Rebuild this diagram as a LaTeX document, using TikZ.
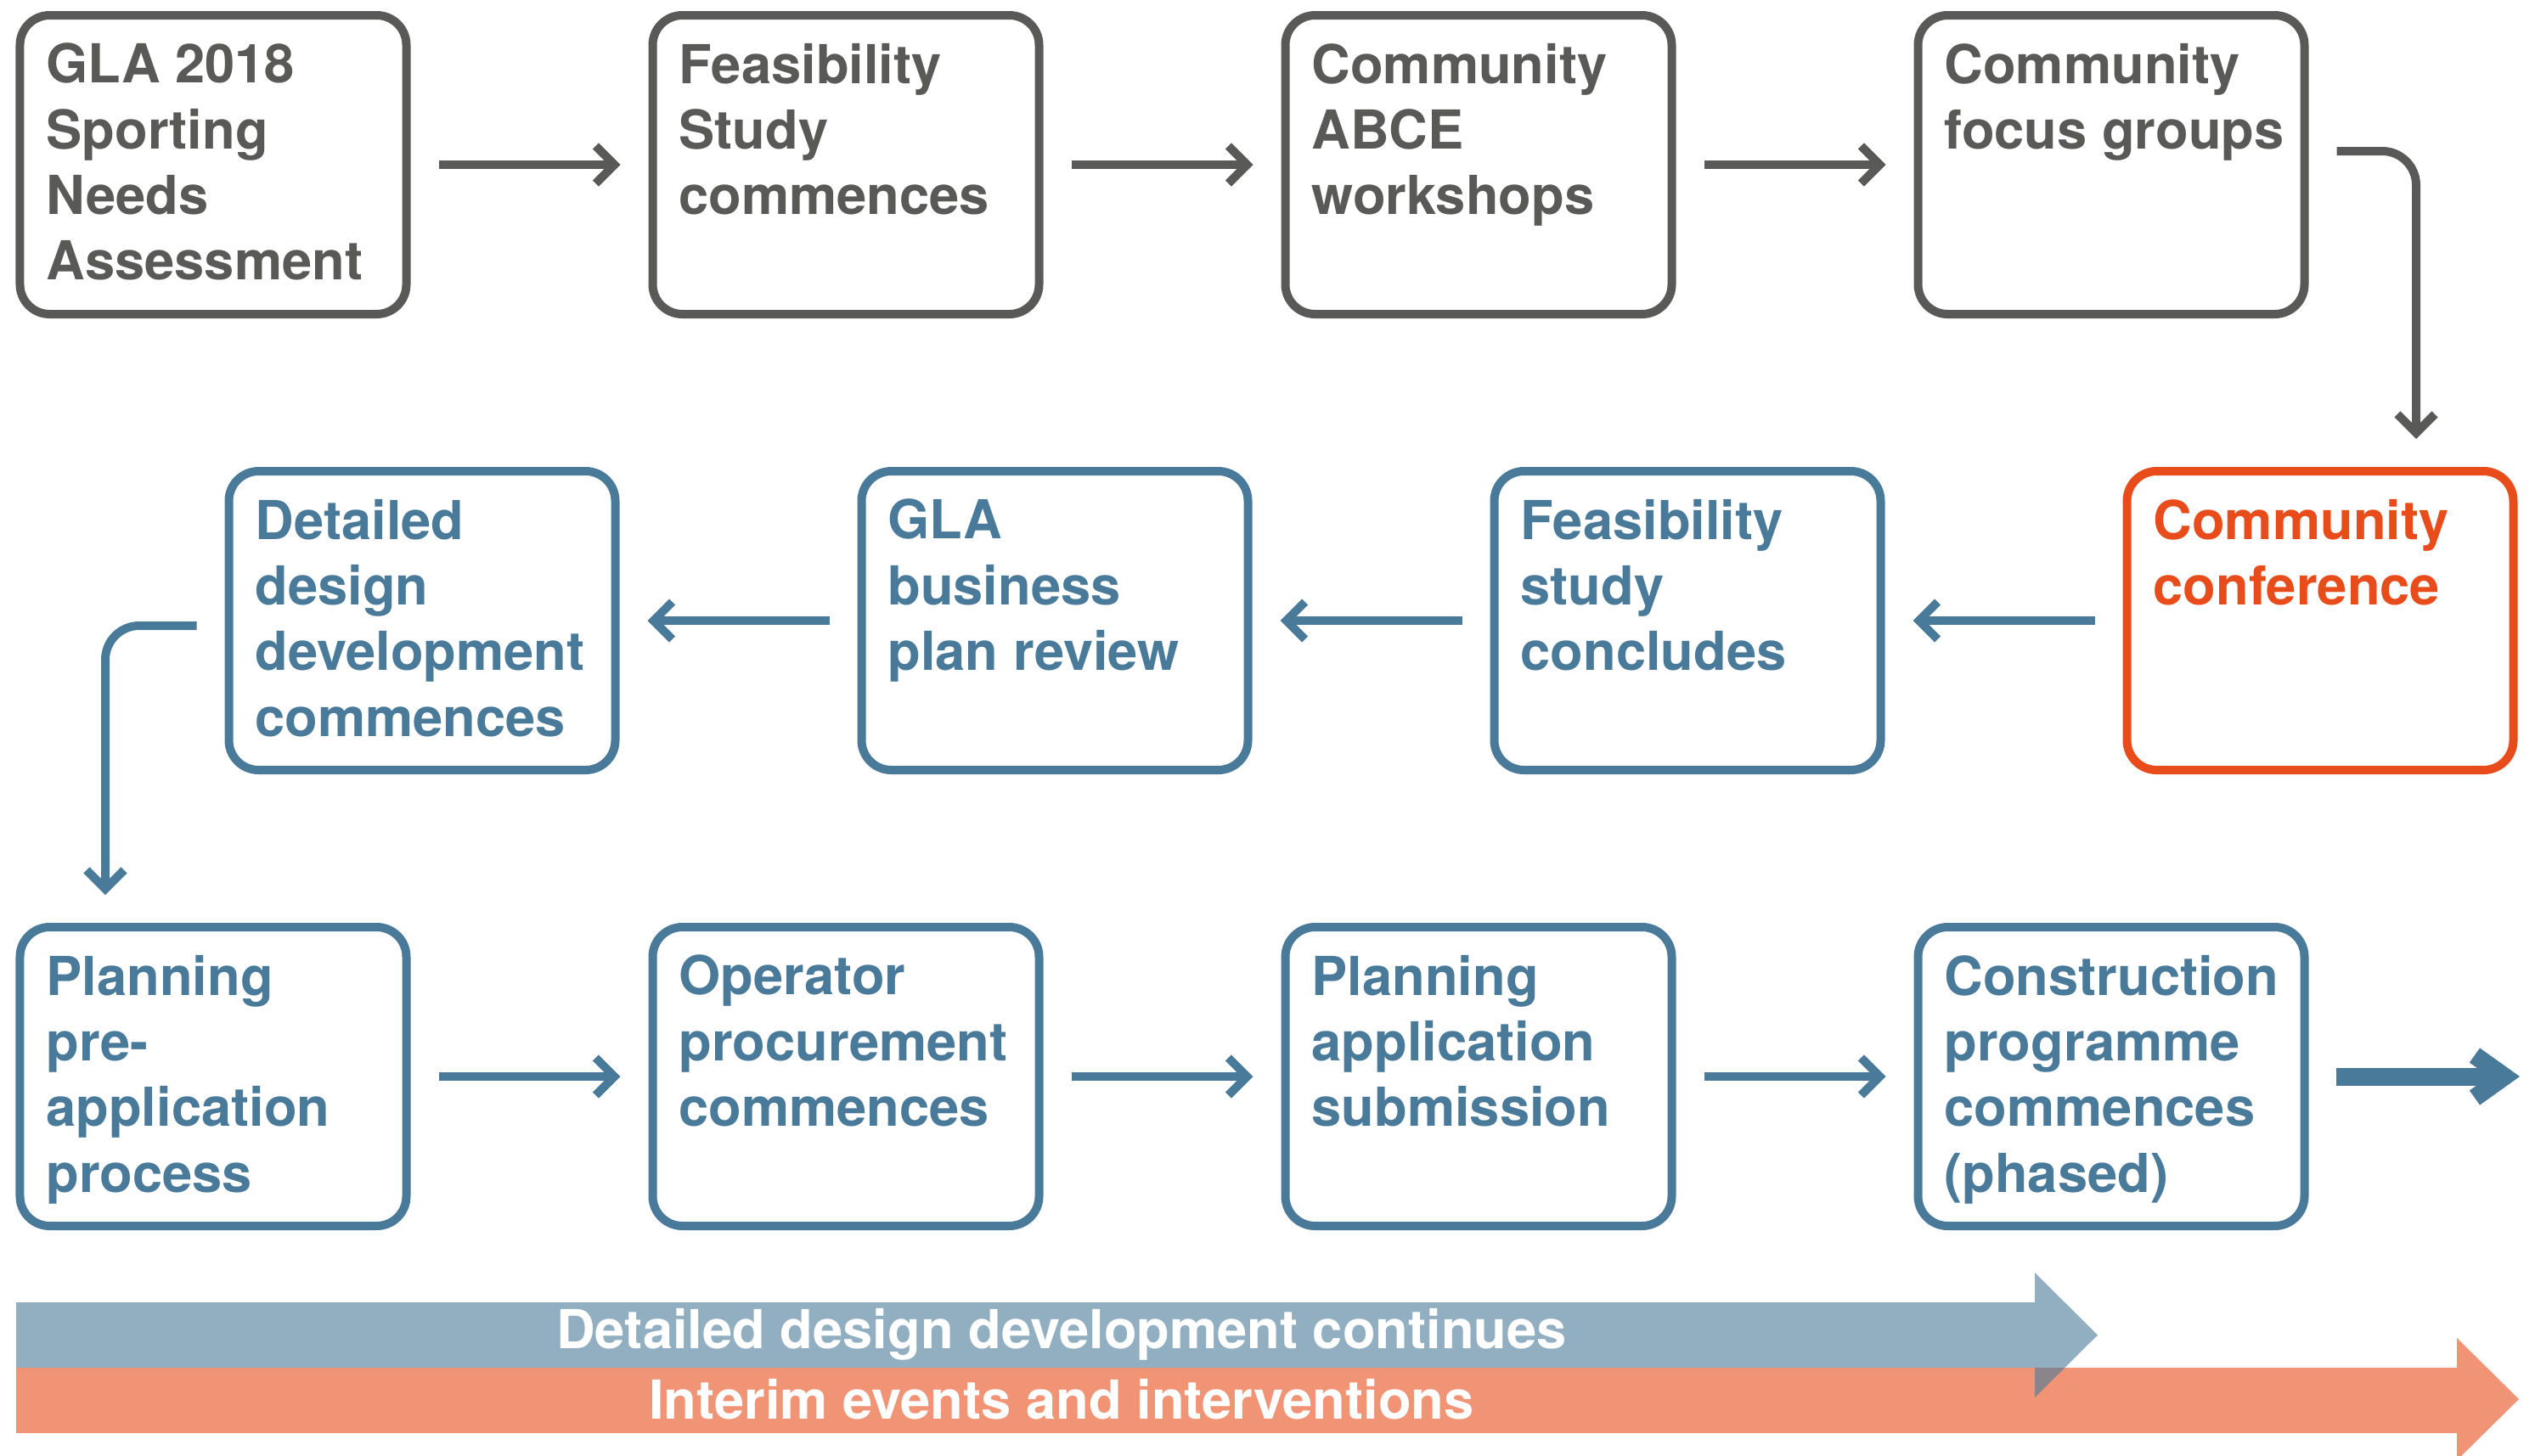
\documentclass[tikz,border=0pt]{standalone}
\usepackage{fontspec}
\setmainfont{TeX Gyre Heros}
\usetikzlibrary{positioning,calc,arrows.meta}

\definecolor{stepgray}{HTML}{595958}
\definecolor{stepblue}{HTML}{4A7A99}
\definecolor{steporange}{HTML}{E84C1A}

\begin{document}
\begin{tikzpicture}
[every node/.style={font=\fontsize{18}{22}\selectfont\bfseries},
phase/.style={draw,line width=1mm,rounded corners=3.5mm,inner sep=0pt,outer sep=0.5mm,
  minimum width=4.55cm,minimum height=3.52cm,
  execute at begin node={\begin{minipage}[c][2.86cm][t]{4.3cm}\raggedright\hyphenpenalty=10000},
  execute at end node={\end{minipage}\hspace*{-0.37cm}}},
phasegray/.style={phase,draw=stepgray,text=stepgray},
phaseblue/.style={phase,draw=stepblue,text=stepblue},
phaseorange/.style={phase,draw=steporange,text=steporange},
link/.style={line width=1mm,-{Straight Barb[length=2.2mm,width=4.4mm]},
  shorten <=3.3mm,shorten >=3.3mm},
]
\useasboundingbox (0,0) rectangle (29.85,-17.14);

% first row
\node[phasegray] (gla) at (2.51,-1.94) {GLA 2018\\Sporting\\Needs\\Assessment};
\node[phasegray,right=2.8cm of gla] (feas) {Feasibility\\Study\\commences};
\node[phasegray,right=2.8cm of feas] (abce) {Community\\ABCE\\workshops};
\node[phasegray,right=2.8cm of abce] (focus) {Community\\focus groups};

% second row
\node[phaseorange] (conf) at (27.32,-7.31) {Community\\conference};
\node[phaseblue,left=2.8cm of conf] (concl) {Feasibility\\study\\concludes};
\node[phaseblue,left=2.8cm of concl] (review) {GLA\\business\\plan review};
\node[phaseblue,left=2.8cm of review] (design) {Detailed\\design\\development\\commences};

% third row
\node[phaseblue] (preapp) at (2.51,-12.68) {Planning\\pre-\\application\\process};
\node[phaseblue,right=2.8cm of preapp] (operator) {Operator\\procurement\\commences};
\node[phaseblue,right=2.8cm of operator] (submit) {Planning\\application\\submission};
\node[phaseblue,right=2.8cm of submit] (build) {Construction\\programme\\commences\\(phased)};
\coordinate (exit) at (29.67,-12.68);

\draw[link,stepgray] (gla) -- (feas);
\draw[link,stepgray] (feas) -- (abce);
\draw[link,stepgray] (abce) -- (focus);
\draw[link,stepgray,rounded corners=4mm]
  ($(focus.east)+(0,0.16)$) -| ($(conf.north)+(1.13,0)$);
\draw[link,stepblue] (conf) -- (concl);
\draw[link,stepblue] (concl) -- (review);
\draw[link,stepblue] (review) -- (design);
\draw[link,stepblue,rounded corners=4mm]
  ($(design.west)+(0,-0.06)$) -| ($(preapp.north)+(-1.27,0)$);
\draw[link,stepblue] (preapp) -- (operator);
\draw[link,stepblue] (operator) -- (submit);
\draw[link,stepblue] (submit) -- (build);
\draw[line width=2.1mm,stepblue,-{Straight Barb[length=3.5mm,width=5mm]},shorten <=3.2mm]
  (build) -- (exit);

% bars along the bottom
\fill[steporange!60!white] (0.19,-16.11) -- (28.93,-16.11) -- (28.93,-15.76)
  -- (29.66,-16.48) -- (28.93,-17.2) -- (28.93,-16.88) -- (0.19,-16.88) -- cycle;
\fill[stepblue,fill opacity=0.6] (0.19,-15.34) -- (23.96,-15.34) -- (23.96,-14.99)
  -- (24.70,-15.725) -- (23.96,-16.46) -- (23.96,-16.11) -- (0.19,-16.11) -- cycle;
\node[text=white] (ddtxt) at (12.5,-15.72) {Detailed design development continues};
\node[text=white] (ietxt) at (12.5,-16.48) {Interim events and interventions};
\end{tikzpicture}
\end{document}
